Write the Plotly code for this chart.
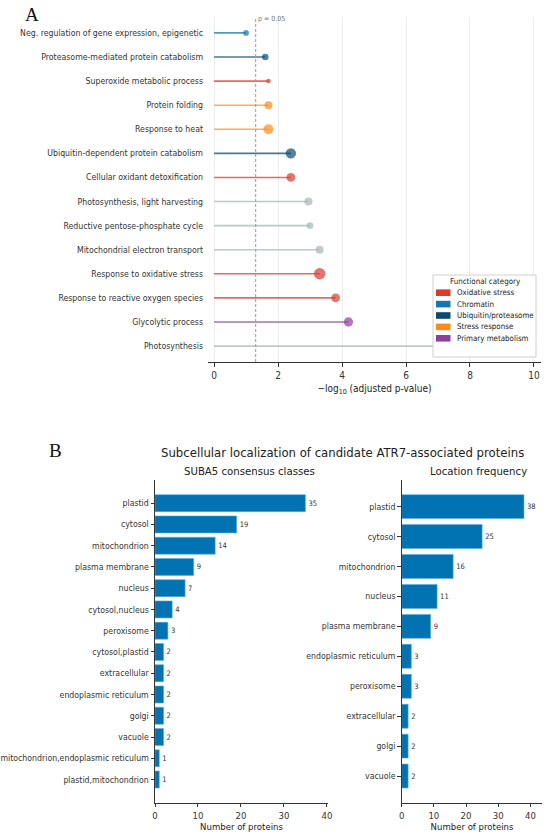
import math
import plotly.graph_objects as go

W, H = 550, 835
FONT = "DejaVu Sans Condensed, DejaVu Sans, sans-serif"

# Panel A: GO enrichment lollipop
terms = ["Neg. regulation of gene expression, epigenetic",
         "Proteasome-mediated protein catabolism",
         "Superoxide metabolic process",
         "Protein folding",
         "Response to heat",
         "Ubiquitin-dependent protein catabolism",
         "Cellular oxidant detoxification",
         "Photosynthesis, light harvesting",
         "Reductive pentose-phosphate cycle",
         "Mitochondrial electron transport",
         "Response to oxidative stress",
         "Response to reactive oxygen species",
         "Glycolytic process",
         "Photosynthesis"]
neg_log_p = [1.0, 1.6, 1.7, 1.7, 1.7, 2.4, 2.4, 2.95, 3.0, 3.3, 3.3, 3.8, 4.2, 8.6]
gene_counts = [3, 4, 2, 6, 9, 10, 7, 6, 4, 6, 12, 7, 8, 14]
term_category = ["Chromatin", "Ubiquitin/proteasome", "Oxidative stress", "Stress response",
                 "Stress response", "Ubiquitin/proteasome", "Oxidative stress", "Other",
                 "Other", "Other", "Oxidative stress", "Oxidative stress",
                 "Primary metabolism", "Other"]
legend_categories = ["Oxidative stress", "Chromatin", "Ubiquitin/proteasome",
                     "Stress response", "Primary metabolism"]

# Panel B: subcellular localization
suba_classes = ["plastid", "cytosol", "mitochondrion", "plasma membrane", "nucleus",
                "cytosol,nucleus", "peroxisome", "cytosol,plastid", "extracellular",
                "endoplasmic reticulum", "golgi", "vacuole",
                "mitochondrion,endoplasmic reticulum", "plastid,mitochondrion"]
suba_counts = [35, 19, 14, 9, 7, 4, 3, 2, 2, 2, 2, 2, 1, 1]
location_names = ["plastid", "cytosol", "mitochondrion", "nucleus", "plasma membrane",
                  "endoplasmic reticulum", "peroxisome", "extracellular", "golgi", "vacuole"]
location_counts = [38, 25, 16, 11, 9, 3, 3, 2, 2, 2]

colors = {"Oxidative stress": "#DA3A2C", "Chromatin": "#1575AE",
          "Ubiquitin/proteasome": "#0C4B70", "Stress response": "#FB8A1C",
          "Primary metabolism": "#8E3F9E", "Other": "#A8B6B9"}
stem_colors = {"Oxidative stress": "rgba(218,58,44,0.75)", "Chromatin": "rgba(21,117,174,0.75)",
               "Ubiquitin/proteasome": "rgba(12,75,112,0.75)", "Stress response": "rgba(251,138,28,0.7)",
               "Primary metabolism": "rgba(142,63,158,0.75)", "Other": "rgba(168,182,185,0.75)"}
BAR = "#0173B2"


def px_x(p):
    return p / W


def px_y(p):
    return 1 - p / H


def label(text, x, y, size, xanchor="center", color="#222", family=FONT):
    fig.add_annotation(text=text, x=px_x(x), y=px_y(y), xref="paper", yref="paper",
                       xanchor=xanchor, yanchor="middle", showarrow=False,
                       font=dict(family=family, size=size, color=color))


fig = go.Figure()

# stems
for term, val, cat in zip(terms, neg_log_p, term_category):
    fig.add_trace(go.Scatter(x=[0, val], y=[term, term], mode="lines",
                             line=dict(color=stem_colors[cat], width=1.6),
                             showlegend=False, hoverinfo="skip", xaxis="x", yaxis="y"))
# heads
fig.add_trace(go.Scatter(x=neg_log_p, y=terms, mode="markers",
                         marker=dict(color=[colors[c] for c in term_category],
                                     size=[3.3 * math.sqrt(n) for n in gene_counts],
                                     line=dict(width=0)),
                         showlegend=False, xaxis="x", yaxis="y"))

# panel B bars
for names, counts, xa, ya in [(suba_classes, suba_counts, "x2", "y2"),
                              (location_names, location_counts, "x3", "y3")]:
    fig.add_trace(go.Bar(x=counts, y=names, orientation="h",
                         marker=dict(color=BAR, line=dict(color="#5AAEDF", width=0.6)),
                         texttemplate="%{x}", textposition="outside",
                         textfont=dict(family=FONT, size=7.5, color="#333"), cliponaxis=False,
                         showlegend=False, xaxis=xa, yaxis=ya))

tick_font = dict(family=FONT, size=8.7, color="#333")
axis_common = dict(showgrid=False, zeroline=False, showline=True, linecolor="#333",
                   linewidth=1, ticks="outside", ticklen=3.5, tickcolor="#333",
                   automargin=False)
count_axis = dict(axis_common, tickvals=[0, 10, 20, 30, 40],
                  tickfont=dict(family=FONT, size=9.5, color="#333"),
                  title=dict(text="Number of proteins", standoff=0,
                             font=dict(family=FONT, size=9.5, color="#222")))

fig.update_layout(
    width=W, height=H, margin=dict(l=0, r=0, t=0, b=0),
    paper_bgcolor="white", plot_bgcolor="white",
    font=dict(family=FONT, color="#222"),
    bargap=0.2, showlegend=False,
    xaxis=dict(axis_common, domain=[px_x(208), px_x(541)], range=[-0.19, 10.22],
               tickvals=[0, 2, 4, 6, 8, 10], showgrid=True, gridcolor="#ececec",
               ticklen=4, tickfont=dict(family=FONT, size=10, color="#333"),
               title=dict(text="\u2212log<sub>10</sub> (adjusted p-value)", standoff=4,
                          font=dict(family=FONT, size=10, color="#222")),
               anchor="y"),
    yaxis=dict(domain=[px_y(362), px_y(17)], type="category",
               categoryorder="array", categoryarray=terms,
               range=[13.66, -0.66], showgrid=False, zeroline=False, showline=False,
               ticks="", ticklabelstandoff=4, tickfont=tick_font, anchor="x",
               automargin=False),
    xaxis2=dict(count_axis, domain=[px_x(155), px_x(328)], range=[0, 40.25], anchor="y2"),
    yaxis2=dict(axis_common, domain=[px_y(802.7), px_y(480)], type="category",
                categoryorder="array", categoryarray=suba_classes,
                range=[14.09, -1.09], tickfont=tick_font, anchor="x2"),
    xaxis3=dict(count_axis, domain=[px_x(401.7), px_x(542.3)], range=[0, 43.7], anchor="y3"),
    yaxis3=dict(axis_common, domain=[px_y(802.7), px_y(480)], type="category",
                categoryorder="array", categoryarray=location_names,
                range=[9.89, -0.89], tickfont=tick_font, anchor="x3"),
)

# p = 0.05 threshold
p_cut = -math.log10(0.05)
fig.add_shape(type="line", x0=p_cut, x1=p_cut, xref="x", y0=0, y1=1, yref="y domain",
              line=dict(color="#999", width=1, dash="3px,2px"))
fig.add_annotation(text="p = 0.05", x=p_cut, xref="x", y=px_y(19), yref="paper",
                   xanchor="left", yanchor="middle", showarrow=False,
                   font=dict(family=FONT, size=7, color="#777"))

# legend for functional categories (matplotlib-style compact box)
fig.add_shape(type="rect", xref="paper", yref="paper",
              x0=px_x(433), x1=px_x(536), y0=px_y(357), y1=px_y(275),
              fillcolor="rgba(255,255,255,0.95)", line=dict(color="#d0d0d0", width=1),
              layer="above")
label("Functional category", 484.5, 281.5, 7.9)
for i, cat in enumerate(legend_categories):
    yc = 292.7 + i * 11.4
    fig.add_shape(type="rect", xref="paper", yref="paper",
                  x0=px_x(436), x1=px_x(450.5), y0=px_y(yc + 3.3), y1=px_y(yc - 3.3),
                  fillcolor=colors[cat], line=dict(width=0), layer="above")
    label(cat, 455, yc, 7.9, xanchor="left")

# panel letters and titles
label("A", 31.5, 14.5, 19, color="#111", family="Liberation Serif, serif")
label("B", 55, 451, 19, color="#111", family="Liberation Serif, serif")
label("Subcellular localization of candidate ATR7-associated proteins", 342, 452, 13)
label("SUBA5 consensus classes", 249.5, 472, 11.3)
label("Location frequency", 478, 472, 11.3)

fig.write_html("out.html", config={"displayModeBar": False},
               post_script="document.body.style.margin='0';")
